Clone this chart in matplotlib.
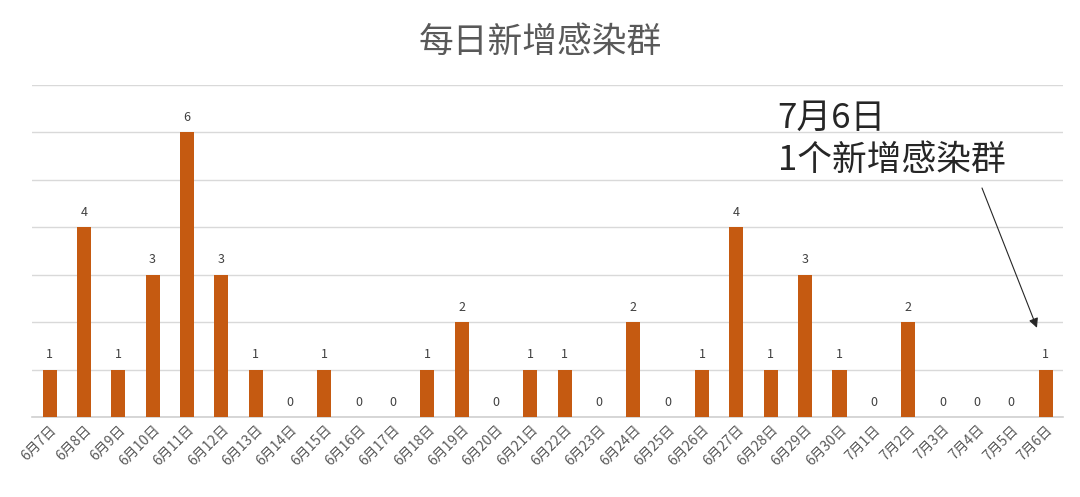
import matplotlib
matplotlib.use("Agg")
import matplotlib.pyplot as plt

plt.rcParams['font.family'] = ['Noto Sans CJK SC', 'DejaVu Sans']

dates = ["6月7日", "6月8日", "6月9日", "6月10日", "6月11日", "6月12日", "6月13日",
         "6月14日", "6月15日", "6月16日", "6月17日", "6月18日", "6月19日", "6月20日",
         "6月21日", "6月22日", "6月23日", "6月24日", "6月25日", "6月26日", "6月27日",
         "6月28日", "6月29日", "6月30日", "7月1日", "7月2日", "7月3日", "7月4日",
         "7月5日", "7月6日"]
values = [1, 4, 1, 3, 6, 3, 1, 0, 1, 0, 0, 1, 2, 0, 1, 1, 0, 2, 0, 1, 4, 1, 3, 1, 0, 2, 0, 0, 0, 1]
title = "每日新增感染群"
note_line1 = "7月6日"
note_line2 = "1个新增感染群"

fig = plt.figure(figsize=(10.8, 4.97), dpi=100)
ax = fig.add_axes([0.030, 0.161, 0.954, 0.668])

x = list(range(len(values)))
bars = ax.bar(x, values, width=0.41, color="#C55A11", zorder=3)
ax.set_xlim(-0.5, len(values) - 0.5)
ax.set_ylim(0, 7)
ax.set_yticks(range(0, 8))
ax.yaxis.grid(True, color="#D9D9D9", linewidth=1.0, zorder=0)
ax.tick_params(axis='y', left=False, labelleft=False)
ax.tick_params(axis='x', bottom=False, length=0, pad=4)
for s in ["top", "right", "left"]:
    ax.spines[s].set_visible(False)
ax.spines["bottom"].set_color("#D0D0D0")
ax.spines["bottom"].set_linewidth(1.2)

ax.set_xticks(x)
ax.set_xticklabels(dates, rotation=45, ha='right', va='top', rotation_mode='anchor',
                   fontsize=10, color="#595959")

for xi, v in zip(x, values):
    ax.annotate(str(v), (xi, v), xytext=(0, 6), textcoords='offset points',
                ha='center', va='bottom', fontsize=9, color="#404040")

fig.text(0.5, 0.915, title, ha='center', va='center', fontsize=25, color="#595959")

fig.text(0.72, 0.762, note_line1, ha='left', va='center', fontsize=25, color="#262626")
fig.text(0.72, 0.678, note_line2, ha='left', va='center', fontsize=25, color="#262626")

ax.annotate("", xy=(28.75, 1.88), xycoords='data',
            xytext=(982 / 1080, 1 - 188 / 497), textcoords='figure fraction',
            arrowprops=dict(arrowstyle='-|>', color='#262626', lw=0.8,
                            mutation_scale=14, shrinkA=0, shrinkB=0))

fig.savefig("out.png", dpi=100)
